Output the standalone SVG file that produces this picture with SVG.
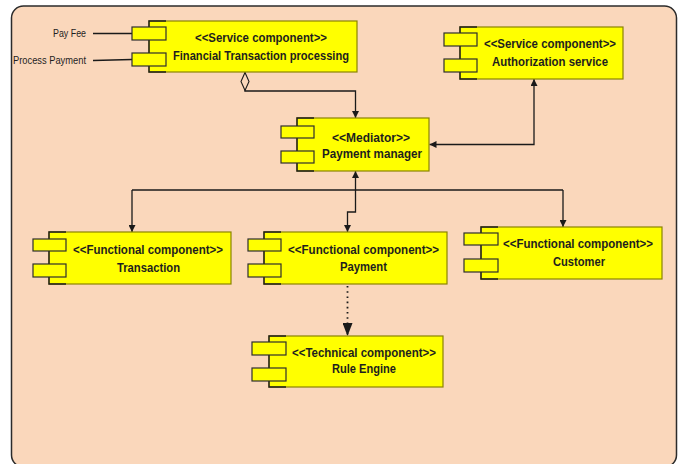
<svg xmlns="http://www.w3.org/2000/svg" width="688" height="464" viewBox="0 0 688 464">
  <style>
    .frame { fill: #FAD7BB; stroke: #2b2b2b; stroke-width: 1.5; }
    .body { fill: #FFFF00; stroke: #8a8400; stroke-width: 1.2; }
    .edge { fill: none; stroke: #1e1e1e; stroke-width: 1.4; }
    .port { fill: #FFFF00; stroke: #2e2e2e; stroke-width: 1.2; }
    .t { font-family: "Liberation Sans", Arial, sans-serif; font-size: 13px; font-weight: bold; fill: #1e1e1e; text-anchor: middle; }
    .lbl { font-family: "Liberation Sans", Arial, sans-serif; font-size: 10.5px; fill: #1e1e1e; text-anchor: end; }
    .wire { fill: none; stroke: #1a1a1a; stroke-width: 1.3; }
    .dep { fill: none; stroke: #1a1a1a; stroke-width: 1.8; stroke-dasharray: 1.6 3.6; }
  </style>
  <defs>
    <marker id="arrow" viewBox="0 0 8 8" refX="8" refY="4" markerWidth="9" markerHeight="7" markerUnits="userSpaceOnUse" orient="auto-start-reverse">
      <path d="M0,0 L8,4 L0,8 z" fill="#1a1a1a"/>
    </marker>
    <marker id="bigArrow" viewBox="0 0 13 10" refX="13" refY="5" markerWidth="13" markerHeight="10" markerUnits="userSpaceOnUse" orient="auto">
      <path d="M0,0 L13,5 L0,10 z" fill="#1a1a1a"/>
    </marker>
    <marker id="diamond" viewBox="-1 -1 20 10" refX="0" refY="4" markerWidth="20" markerHeight="10" markerUnits="userSpaceOnUse" orient="auto">
      <path d="M0,4 L9,0 L18,4 L9,8 z" fill="#FAD7BB" stroke="#1a1a1a" stroke-width="1.1"/>
    </marker>
  </defs>

  <!-- container -->
  <rect class="frame" x="11.5" y="6" width="665" height="461" rx="12" ry="12"/>

  <!-- connectors -->
  <g id="connectors">
    <!-- provided interfaces -->
    <line class="wire" x1="93" y1="33.5" x2="132" y2="33.5"/>
    <line class="wire" x1="93" y1="60.5" x2="132" y2="59.5"/>
    <!-- aggregation to mediator -->
    <path class="wire" d="M245,72.5 V91 H355.5 V118" marker-start="url(#diamond)" marker-end="url(#arrow)"/>
    <!-- mediator <-> authorization -->
    <path class="wire" d="M429.5,144.5 H534 V79" marker-start="url(#arrow)" marker-end="url(#arrow)"/>
    <!-- mediator -> functional components -->
    <path class="wire" d="M355.5,171 V190" marker-start="url(#arrow)"/>
    <path class="wire" d="M132,190 H563"/>
    <path class="wire" d="M132,190 V232" marker-end="url(#arrow)"/>
    <path class="wire" d="M563,190 V227" marker-end="url(#arrow)"/>
    <path class="wire" d="M355.5,190 V212 H347.5 V232" marker-end="url(#arrow)"/>
    <!-- payment depends on rule engine -->
    <path class="dep" d="M347.5,286 V336" marker-end="url(#bigArrow)"/>
  </g>

  <g id="lbl-pay-fee"><text class="lbl" x="86" y="37" textLength="33" lengthAdjust="spacingAndGlyphs">Pay Fee</text></g>
  <g id="lbl-process-payment"><text class="lbl" x="86" y="63.5" textLength="73" lengthAdjust="spacingAndGlyphs">Process Payment</text></g>

  <g id="financial-transaction-processing">
    <rect class="body" x="149" y="21" width="208" height="51"/>
    <path class="edge" d="M166,21 H149 V72 H166"/>
    <rect class="port" x="132" y="27" width="34" height="13"/>
    <rect class="port" x="132" y="53" width="34" height="13"/>
    <text class="t" x="261" y="41.5" textLength="132" lengthAdjust="spacingAndGlyphs">&lt;&lt;Service component&gt;&gt;</text>
    <text class="t" x="261" y="60" textLength="176" lengthAdjust="spacingAndGlyphs">Financial Transaction processing</text>
  </g>

  <g id="authorization-service">
    <rect class="body" x="460" y="27" width="163" height="52"/>
    <path class="edge" d="M477,27 H460 V79 H477"/>
    <rect class="port" x="444" y="33" width="33" height="13"/>
    <rect class="port" x="444" y="59" width="33" height="13"/>
    <text class="t" x="550" y="47.5" textLength="132" lengthAdjust="spacingAndGlyphs">&lt;&lt;Service component&gt;&gt;</text>
    <text class="t" x="550" y="65.5" textLength="116" lengthAdjust="spacingAndGlyphs">Authorization service</text>
  </g>

  <g id="payment-manager">
    <rect class="body" x="297" y="118" width="132" height="53"/>
    <path class="edge" d="M314,118 H297 V171 H314"/>
    <rect class="port" x="281" y="126" width="33" height="12"/>
    <rect class="port" x="281" y="151" width="33" height="12"/>
    <text class="t" x="371" y="141.5" textLength="78" lengthAdjust="spacingAndGlyphs">&lt;&lt;Mediator&gt;&gt;</text>
    <text class="t" x="372" y="158" textLength="100" lengthAdjust="spacingAndGlyphs">Payment manager</text>
  </g>

  <g id="transaction">
    <rect class="body" x="49" y="232" width="182" height="52"/>
    <path class="edge" d="M66,232 H49 V284 H66"/>
    <rect class="port" x="33" y="239" width="33" height="12"/>
    <rect class="port" x="33" y="264" width="33" height="13"/>
    <text class="t" x="148" y="253.5" textLength="150" lengthAdjust="spacingAndGlyphs">&lt;&lt;Functional component&gt;&gt;</text>
    <text class="t" x="148.5" y="271.5" textLength="63" lengthAdjust="spacingAndGlyphs">Transaction</text>
  </g>

  <g id="payment">
    <rect class="body" x="264" y="232" width="183" height="52"/>
    <path class="edge" d="M281,232 H264 V284 H281"/>
    <rect class="port" x="248" y="239" width="33" height="12"/>
    <rect class="port" x="248" y="264" width="33" height="13"/>
    <text class="t" x="363.5" y="253.5" textLength="151" lengthAdjust="spacingAndGlyphs">&lt;&lt;Functional component&gt;&gt;</text>
    <text class="t" x="363.5" y="271" textLength="47" lengthAdjust="spacingAndGlyphs">Payment</text>
  </g>

  <g id="customer">
    <rect class="body" x="481" y="227" width="181" height="52"/>
    <path class="edge" d="M498,227 H481 V279 H498"/>
    <rect class="port" x="464" y="233" width="34" height="12"/>
    <rect class="port" x="464" y="259" width="34" height="13"/>
    <text class="t" x="578" y="247.5" textLength="150" lengthAdjust="spacingAndGlyphs">&lt;&lt;Functional component&gt;&gt;</text>
    <text class="t" x="579" y="266" textLength="52" lengthAdjust="spacingAndGlyphs">Customer</text>
  </g>

  <g id="rule-engine">
    <rect class="body" x="269" y="336" width="174" height="51"/>
    <path class="edge" d="M286,336 H269 V387 H286"/>
    <rect class="port" x="252" y="342" width="34" height="13"/>
    <rect class="port" x="252" y="368" width="34" height="13"/>
    <text class="t" x="364" y="356.5" textLength="144" lengthAdjust="spacingAndGlyphs">&lt;&lt;Technical component&gt;&gt;</text>
    <text class="t" x="364" y="373" textLength="64" lengthAdjust="spacingAndGlyphs">Rule Engine</text>
  </g>
</svg>
